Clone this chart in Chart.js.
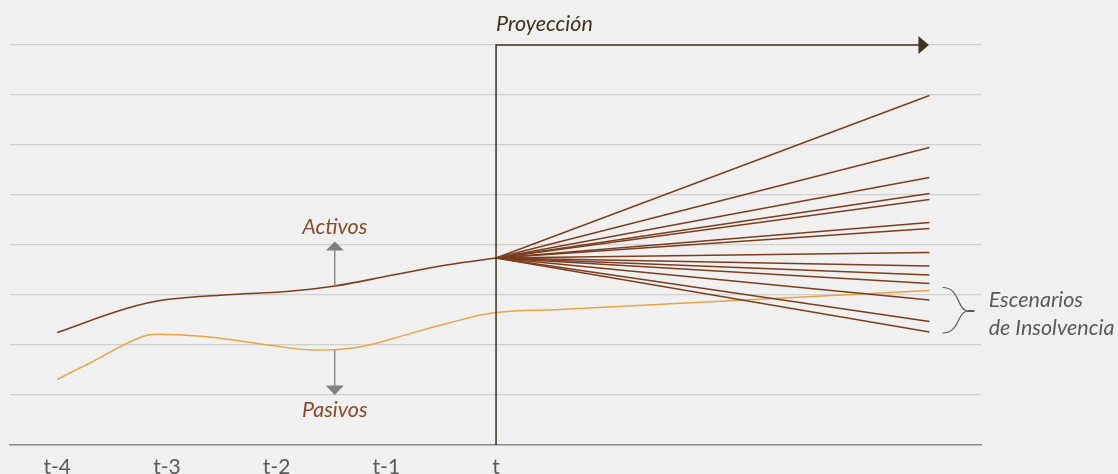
<!DOCTYPE html>
<html>
<head>
<meta charset="utf-8">
<script src="https://cdn.jsdelivr.net/npm/chart.js@4.4.1/dist/chart.umd.min.js"></script>
<style>
  html, body { margin: 0; padding: 0; background: #f0f0f0; overflow: hidden; }
  #wrap { width: 1118px; height: 474px; }
</style>
</head>
<body>
<div id="wrap"><canvas id="chart" width="1118" height="474"></canvas></div>
<script>
// x en periodos relativos a t (t = 0), y en unidades arbitrarias
const tickLabels = ['t-4', 't-3', 't-2', 't-1', 't'];
const tickValues = [-4, -3, -2, -1, 0];

const activosX = [-4, -3.37, -3, -2.4, -1.91, -1.47, -0.94, -0.45, 0];
const activosY = [2.25, 2.73, 2.91, 3.01, 3.07, 3.18, 3.40, 3.60, 3.74];

const pasivosX = [-4, -3.71, -3.22, -2.99, -2.57, -2.08, -1.66, -1.27, -0.94, -0.45, 0, 0.58, 3.95];
const pasivosY = [1.31, 1.63, 2.17, 2.21, 2.15, 2.0, 1.90, 1.95, 2.13, 2.43, 2.65, 2.71, 3.09];

// escenarios proyectados: todos parten de t y terminan en el horizonte
const proyInicio = 3.74;
const proyHorizonte = 3.95;
const proyFinales = [6.99, 5.95, 5.35, 5.03, 4.91, 4.45, 4.33, 3.85, 3.58, 3.40, 3.23, 2.90, 2.47, 2.26];

const brown = '#7c3d1e';
const orange = '#e9a445';
const dark = '#3e3320';
const gray = '#808080';
const textGray = '#5a5a5a';
const labelFont = 'italic 21.5px Lato';

const toPts = (xs, ys) => xs.map((x, i) => ({ x: x, y: ys[i] }));

const datasets = [];
proyFinales.forEach(function(v) {
    datasets.push({
        data: [{ x: 0, y: proyInicio }, { x: proyHorizonte, y: v }],
        borderColor: brown, borderWidth: 1.4, tension: 0
    });
});
datasets.push({ data: toPts(pasivosX, pasivosY), borderColor: orange, borderWidth: 1.4, tension: 0.4 });
datasets.push({ data: toPts(activosX, activosY), borderColor: brown, borderWidth: 1.6, tension: 0.4 });

function arrowHead(ctx, x, tipY, baseY, half) {
    ctx.beginPath();
    ctx.moveTo(x, tipY);
    ctx.lineTo(x - half, baseY);
    ctx.lineTo(x + half, baseY);
    ctx.closePath();
    ctx.fill();
}

const annotations = {
    id: 'annotations',
    afterDatasetsDraw(chart) {
        const ctx = chart.ctx;
        const xs = chart.scales.x, ys = chart.scales.y;
        const px = v => xs.getPixelForValue(v);
        const py = v => ys.getPixelForValue(v);
        ctx.save();

        // proyeccion
        ctx.strokeStyle = dark;
        ctx.fillStyle = dark;
        ctx.lineWidth = 1.5;
        ctx.beginPath();
        ctx.moveTo(px(0), py(0));
        ctx.lineTo(px(0), py(8));
        ctx.lineTo(px(3.86), py(8));
        ctx.stroke();
        ctx.beginPath();
        ctx.moveTo(px(3.945), py(8));
        ctx.lineTo(px(3.85), py(8) - 9);
        ctx.lineTo(px(3.85), py(8) + 9);
        ctx.closePath();
        ctx.fill();
        ctx.font = labelFont;
        ctx.textAlign = 'left';
        ctx.textBaseline = 'middle';
        ctx.fillText('Proyección', px(0), py(8) - 21);

        // flechas activos / pasivos
        const ax = px(-1.47);
        ctx.strokeStyle = gray;
        ctx.fillStyle = gray;
        ctx.lineWidth = 1.3;
        ctx.beginPath();
        ctx.moveTo(ax, py(3.18));
        ctx.lineTo(ax, py(3.95));
        ctx.moveTo(ax, py(1.90));
        ctx.lineTo(ax, py(1.13));
        ctx.stroke();
        arrowHead(ctx, ax, py(4.07), py(3.89), 9);
        arrowHead(ctx, ax, py(1.0), py(1.19), 9);

        ctx.fillStyle = '#8a4a2a';
        ctx.font = labelFont;
        ctx.textAlign = 'center';
        ctx.fillText('Activos', ax, py(4.35));
        ctx.fillText('Pasivos', ax, py(0.70));

        // llave de escenarios de insolvencia
        const bx0 = px(4.07), bx1 = px(4.36), bm = (bx0 + bx1) / 2;
        const top = py(3.15), bot = py(2.24), mid = py(2.68);
        ctx.strokeStyle = textGray;
        ctx.lineWidth = 1.2;
        ctx.beginPath();
        ctx.moveTo(bx0, top);
        ctx.bezierCurveTo(bm + 2, top, bm - 2, mid, bx1 - 6, mid);
        ctx.moveTo(bx0, bot);
        ctx.bezierCurveTo(bm + 2, bot, bm - 2, mid, bx1 - 6, mid);
        ctx.stroke();
        ctx.lineWidth = 2;
        ctx.beginPath();
        ctx.moveTo(bx1 - 7, mid);
        ctx.lineTo(bx1, mid);
        ctx.stroke();

        ctx.fillStyle = textGray;
        ctx.font = labelFont;
        ctx.textAlign = 'left';
        ctx.fillText('Escenarios', px(4.49), py(2.9));
        ctx.fillText('de Insolvencia', px(4.49), py(2.34));
        ctx.restore();
    }
};

new Chart(document.getElementById('chart'), {
    type: 'scatter',
    data: { datasets: datasets },
    options: {
        responsive: false,
        animation: false,
        showLine: true,
        layout: { padding: { left: 10, right: 137, top: 45, bottom: 0 } },
        elements: { point: { radius: 0 } },
        plugins: { legend: { display: false }, tooltip: { enabled: false } },
        scales: {
            x: {
                type: 'linear',
                min: -4.43,
                max: 4.42,
                afterBuildTicks(scale) { scale.ticks = tickValues.map(v => ({ value: v })); },
                afterFit(scale) { scale.height = 29; },
                ticks: {
                    color: textGray,
                    font: { family: 'Lato', size: 21 },
                    padding: 10,
                    maxRotation: 0,
                    autoSkip: false,
                    callback: v => tickLabels[tickValues.indexOf(v)]
                },
                grid: { display: false, drawTicks: false },
                border: { display: true, color: '#8c8c8c', width: 1.5 }
            },
            y: {
                min: 0,
                max: 8,
                ticks: { display: false, stepSize: 1 },
                grid: { color: '#cfcfcf', lineWidth: 1.2, drawTicks: false },
                border: { display: false }
            }
        }
    },
    plugins: [annotations]
});
</script>
</body>
</html>
